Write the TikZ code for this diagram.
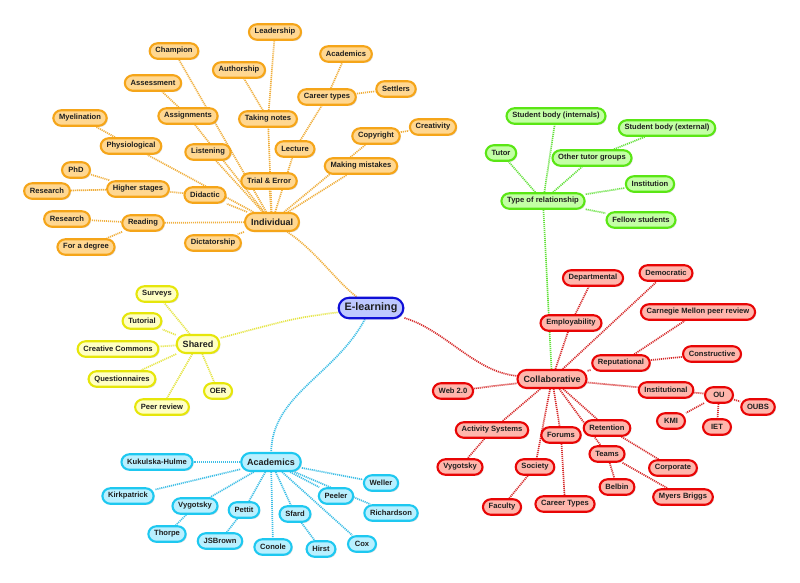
\documentclass[tikz,border=0pt]{standalone}
\usepackage{fontspec}
\setmainfont{Liberation Sans}
\usetikzlibrary{shadows,backgrounds}
\definecolor{orgB}{RGB}{245,165,25}
\definecolor{orgF}{RGB}{255,215,145}
\definecolor{orgL}{RGB}{240,175,60}
\definecolor{grnB}{RGB}{90,230,20}
\definecolor{grnF}{RGB}{195,255,165}
\definecolor{grnL}{RGB}{100,225,60}
\definecolor{redB}{RGB}{232,5,5}
\definecolor{redF}{RGB}{255,182,172}
\definecolor{redL}{RGB}{215,45,45}
\definecolor{yelB}{RGB}{230,230,10}
\definecolor{yelF}{RGB}{255,255,195}
\definecolor{yelL}{RGB}{230,230,70}
\definecolor{cyaB}{RGB}{30,200,240}
\definecolor{cyaF}{RGB}{185,240,255}
\definecolor{cyaL}{RGB}{60,190,230}
\definecolor{bluB}{RGB}{15,15,215}
\definecolor{bluF}{RGB}{190,200,255}
\tikzset{
  mm/.style={rounded corners=8pt, line width=2.1pt, minimum height=15.5pt, minimum width=28pt,
    inner xsep=5.8pt, inner ysep=1pt, text=black!88,
    font=\fontsize{7.6}{8.8}\selectfont\bfseries,
    drop shadow={shadow xshift=1.2pt, shadow yshift=-1.2pt, opacity=0.25}},
  big/.style={font=\fontsize{9}{10.5}\selectfont\bfseries, minimum height=18pt, inner xsep=6pt, rounded corners=9pt},
  onode/.style={mm, draw=orgB, fill=orgF},
  gnode/.style={mm, draw=grnB, fill=grnF},
  rnode/.style={mm, draw=redB, fill=redF},
  ynode/.style={mm, draw=yelB, fill=yelF},
  cnode/.style={mm, draw=cyaB, fill=cyaF},
  rootnode/.style={mm, draw=bluB, fill=bluF, font=\fontsize{10.8}{12}\selectfont\bfseries, minimum height=20.5pt, rounded corners=10.5pt, inner xsep=6pt},
  lnk/.style={line width=1.7pt, dash pattern=on 1.1pt off 0.9pt},
  oln/.style={lnk, draw=orgL},
  gln/.style={lnk, draw=grnL},
  rln/.style={lnk, draw=redL},
  yln/.style={lnk, draw=yelL},
  cln/.style={lnk, draw=cyaL},
}
\begin{document}
\begin{tikzpicture}[x=1pt,y=-1pt]
\useasboundingbox (0,0) rectangle (800,582);
% root
\node[rootnode] (elearn) at (371,308) {E-learning};
% orange
\node[onode,big] (ind) at (272,222) {Individual};
\node[onode] (lead) at (275,32) {Leadership};
\node[onode] (champ) at (174,51) {Champion};
\node[onode] (auth) at (239,70) {Authorship};
\node[onode] (oacad) at (346,54) {Academics};
\node[onode] (assess) at (153,83) {Assessment};
\node[onode] (settl) at (396,89) {Settlers};
\node[onode] (career) at (327,97) {Career types};
\node[onode] (myel) at (80,118) {Myelination};
\node[onode] (assign) at (188,116) {Assignments};
\node[onode] (notes) at (268,119) {Taking notes};
\node[onode] (copy) at (376,136) {Copyright};
\node[onode] (creat) at (433,127) {Creativity};
\node[onode] (phys) at (131,146) {Physiological};
\node[onode] (listen) at (208,152) {Listening};
\node[onode] (lect) at (295,149) {Lecture};
\node[onode] (mist) at (361,166) {Making mistakes};
\node[onode] (phd) at (76,170) {PhD};
\node[onode] (higher) at (138,189) {Higher stages};
\node[onode] (res1) at (47,191) {Research};
\node[onode] (didac) at (205,195) {Didactic};
\node[onode] (trial) at (269,181) {Trial \& Error};
\node[onode] (res2) at (67,219) {Research};
\node[onode] (read) at (143,223) {Reading};
\node[onode] (degree) at (86,247) {For a degree};
\node[onode] (dict) at (213,243) {Dictatorship};
% green
\node[gnode] (tor) at (543,201) {Type of relationship};
\node[gnode] (sbi) at (556,116) {Student body (internals)};
\node[gnode] (sbe) at (667,128) {Student body (external)};
\node[gnode] (tutor) at (501,153) {Tutor};
\node[gnode] (otg) at (592,158) {Other tutor groups};
\node[gnode] (inst) at (650,184) {Institution};
\node[gnode] (fell) at (641,220) {Fellow students};
% red
\node[rnode,big] (coll) at (552,379) {Collaborative};
\node[rnode] (dept) at (593,278) {Departmental};
\node[rnode] (demo) at (666,273) {Democratic};
\node[rnode] (cmu) at (698,312) {Carnegie Mellon peer review};
\node[rnode] (empl) at (571,323) {Employability};
\node[rnode] (constr) at (712,354) {Constructive};
\node[rnode] (rep) at (621,363) {Reputational};
\node[rnode] (web) at (453,391) {Web 2.0};
\node[rnode] (instl) at (666,390) {Institutional};
\node[rnode] (ou) at (719,395) {OU};
\node[rnode] (oubs) at (758,407) {OUBS};
\node[rnode] (kmi) at (671,421) {KMI};
\node[rnode] (iet) at (717,427) {IET};
\node[rnode] (act) at (492,430) {Activity Systems};
\node[rnode] (ret) at (607,428) {Retention};
\node[rnode] (forum) at (561,435) {Forums};
\node[rnode] (teams) at (607,454) {Teams};
\node[rnode] (rvyg) at (460,467) {Vygotsky};
\node[rnode] (soc) at (535,467) {Society};
\node[rnode] (corp) at (673,468) {Corporate};
\node[rnode] (belb) at (617,487) {Belbin};
\node[rnode] (myers) at (683,497) {Myers Briggs};
\node[rnode] (fac) at (502,507) {Faculty};
\node[rnode] (ctypes) at (565,504) {Career Types};
% yellow
\node[ynode,big] (shared) at (198,344) {Shared};
\node[ynode] (surv) at (157,294) {Surveys};
\node[ynode] (tut) at (142,321) {Tutorial};
\node[ynode] (cc) at (118,349) {Creative Commons};
\node[ynode] (quest) at (122,379) {Questionnaires};
\node[ynode] (oer) at (218,391) {OER};
\node[ynode] (peer) at (162,407) {Peer review};
% cyan
\node[cnode,big] (cacad) at (271,462) {Academics};
\node[cnode] (kuk) at (157,462) {Kukulska-Hulme};
\node[cnode] (well) at (381,483) {Weller};
\node[cnode] (kirk) at (128,496) {Kirkpatrick};
\node[cnode] (peel) at (336,496) {Peeler};
\node[cnode] (cvyg) at (195,506) {Vygotsky};
\node[cnode] (pett) at (244,510) {Pettit};
\node[cnode] (sfard) at (295,514) {Sfard};
\node[cnode] (rich) at (391,513) {Richardson};
\node[cnode] (thor) at (167,534) {Thorpe};
\node[cnode] (jsb) at (220,541) {JSBrown};
\node[cnode] (conole) at (273,547) {Conole};
\node[cnode] (hirst) at (321,549) {Hirst};
\node[cnode] (cox) at (362,544) {Cox};

\begin{pgfonlayer}{background}
\fill[white] (0,0) rectangle (800,582);
% main branches
\draw[oln] (elearn) .. controls (335,280) and (315,250) .. (ind);
\draw[rln] (elearn) .. controls (445,330) and (475,372) .. (coll);
\draw[yln] (elearn) .. controls (295,318) .. (shared);
\draw[cln] (elearn) .. controls (335,375) and (272,395) .. (cacad);
% orange
\draw[oln] (ind) -- (read);
\draw[oln] (read) -- (res2);
\draw[oln] (read) -- (degree);
\draw[oln] (ind) -- (didac);
\draw[oln] (didac) -- (higher);
\draw[oln] (higher) -- (phd);
\draw[oln] (higher) -- (res1);
\draw[oln] (ind) -- (phys);
\draw[oln] (phys) -- (myel);
\draw[oln] (ind) -- (listen);
\draw[oln] (ind) -- (assign);
\draw[oln] (assign) -- (assess);
\draw[oln] (ind) -- (champ);
\draw[oln] (ind) -- (trial);
\draw[oln] (ind) -- (notes);
\draw[oln] (notes) -- (lead);
\draw[oln] (notes) -- (auth);
\draw[oln] (ind) -- (lect);
\draw[oln] (lect) -- (career);
\draw[oln] (career) -- (oacad);
\draw[oln] (career) -- (settl);
\draw[oln] (ind) -- (copy);
\draw[oln] (copy) -- (creat);
\draw[oln] (ind) -- (mist);
\draw[oln] (ind) -- (dict);
% green
\draw[gln] (coll) -- (tor);
\draw[gln] (tor) -- (tutor);
\draw[gln] (tor) -- (sbi);
\draw[gln] (tor) -- (otg);
\draw[gln] (otg) -- (sbe);
\draw[gln] (tor) -- (inst);
\draw[gln] (tor) -- (fell);
% red
\draw[rln] (coll) -- (empl);
\draw[rln] (empl) -- (dept);
\draw[rln] (coll) -- (demo);
\draw[rln] (coll) -- (rep);
\draw[rln] (rep) -- (cmu);
\draw[rln] (rep) -- (constr);
\draw[rln] (coll) -- (instl);
\draw[rln] (instl) -- (ou);
\draw[rln] (ou) -- (oubs);
\draw[rln] (ou) -- (kmi);
\draw[rln] (ou) -- (iet);
\draw[rln] (coll) -- (web);
\draw[rln] (coll) -- (act);
\draw[rln] (act) -- (rvyg);
\draw[rln] (coll) -- (soc);
\draw[rln] (soc) -- (fac);
\draw[rln] (coll) -- (forum);
\draw[rln] (forum) -- (ctypes);
\draw[rln] (coll) -- (ret);
\draw[rln] (ret) -- (corp);
\draw[rln] (coll) -- (teams);
\draw[rln] (teams) -- (belb);
\draw[rln] (teams) -- (myers);
% yellow
\draw[yln] (shared) -- (surv);
\draw[yln] (shared) -- (tut);
\draw[yln] (shared) -- (cc);
\draw[yln] (shared) -- (quest);
\draw[yln] (shared) -- (oer);
\draw[yln] (shared) -- (peer);
% cyan
\draw[cln] (cacad) -- (kuk);
\draw[cln] (cacad) -- (kirk);
\draw[cln] (cacad) -- (cvyg);
\draw[cln] (cvyg) -- (thor);
\draw[cln] (cacad) -- (pett);
\draw[cln] (pett) -- (jsb);
\draw[cln] (cacad) -- (conole);
\draw[cln] (cacad) -- (sfard);
\draw[cln] (sfard) -- (hirst);
\draw[cln] (cacad) -- (peel);
\draw[cln] (cacad) -- (well);
\draw[cln] (cacad) -- (rich);
\draw[cln] (cacad) -- (cox);
\end{pgfonlayer}
\end{tikzpicture}
\end{document}
